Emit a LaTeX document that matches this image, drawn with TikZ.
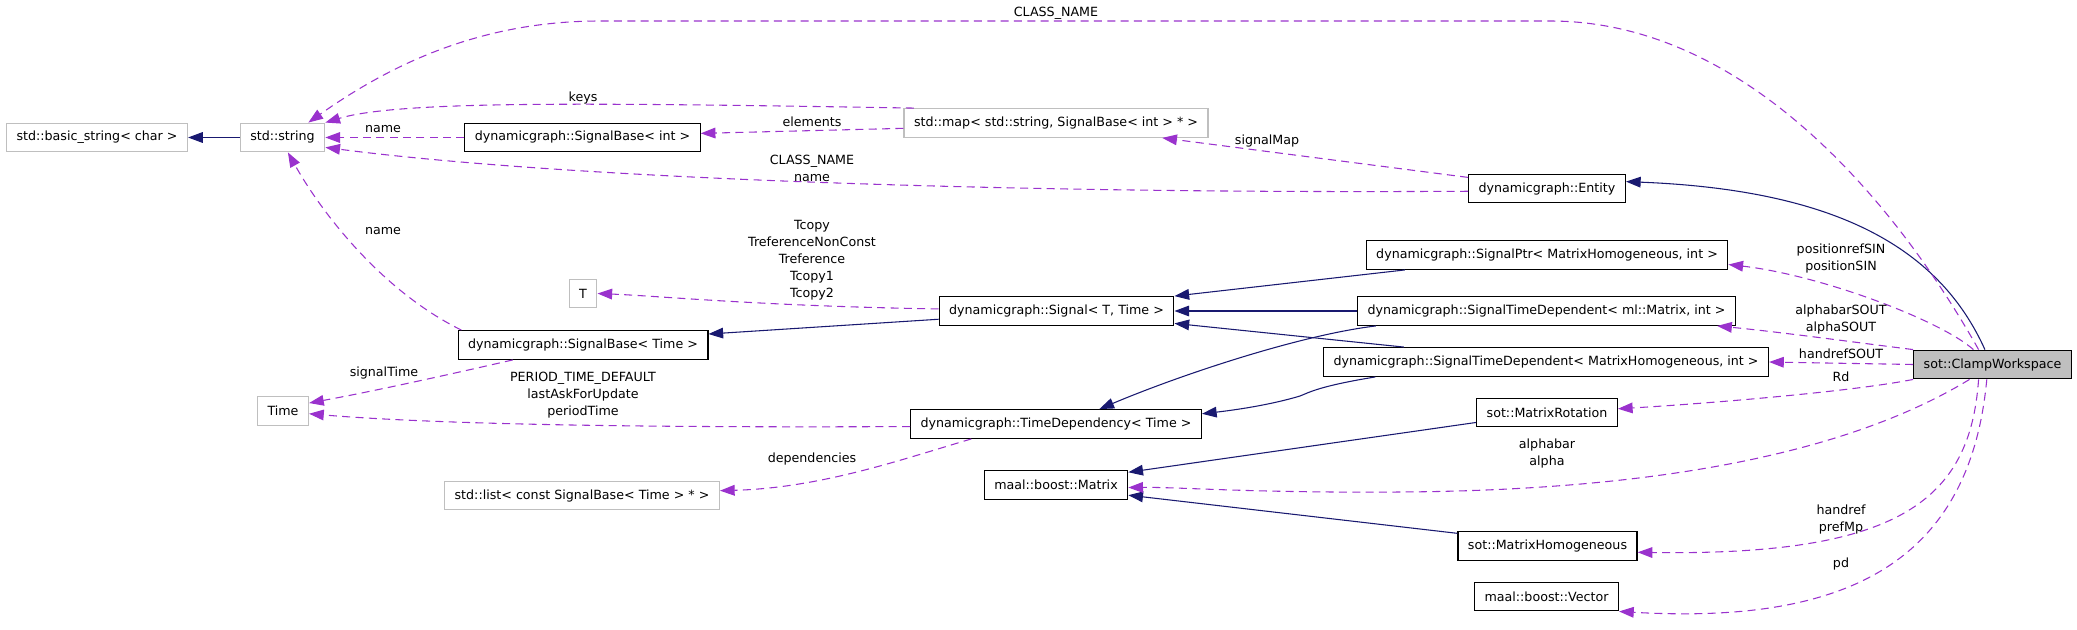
\documentclass[tikz,border=0pt]{standalone}
\usepackage{fontspec}
\newfontfamily\dgfont{DejaVu Sans}
\usetikzlibrary{arrows.meta}
\definecolor{inhblue}{HTML}{191970}
\definecolor{usepurple}{HTML}{9A32CD}
\definecolor{extgray}{HTML}{BFBFBF}
\tikzset{
  cls/.style={draw=black, line width=0.9pt, fill=white, minimum height=21.5pt, inner xsep=7.5pt, inner ysep=0pt, font=\dgfont\fontsize{9.5}{12.75}\selectfont},
  extcls/.style={cls, draw=extgray},
  thiscls/.style={cls, fill=extgray},
  lbl/.style={align=center, inner sep=0pt, font=\dgfont\fontsize{9.5}{12.75}\selectfont},
  inherit/.style={draw=inhblue, line width=0.8pt, -{Triangle[length=11pt,width=8pt]}},
  uses/.style={draw=usepurple, line width=0.8pt, dash pattern=on 6pt off 4pt, -{Triangle[length=11pt,width=8pt]}}
}
\begin{document}
\begin{tikzpicture}[x=0.75pt,y=0.75pt,yscale=-1,xscale=1]
\useasboundingbox (0,0) rectangle (2077,629);

%classes
\node[extcls] (basic) at (97,137.5) {std::basic\_string< char >};
\node[extcls] (str) at (282.5,137.5) {std::string};
\node[cls] (sbint) at (582.5,137.5) {dynamicgraph::SignalBase< int >};
\node[extcls] (map) at (1056,123) {std::map< std::string, SignalBase< int > * >};
\node[extcls] (T) at (583,293.5) {T};
\node[cls] (sbtime) at (583,345) {dynamicgraph::SignalBase< Time >};
\node[extcls] (time) at (283,411) {Time};
\node[extcls] (list) at (582,495.5) {std::list< const SignalBase< Time > * >};
\node[cls] (signal) at (1056.5,311) {dynamicgraph::Signal< T, Time >};
\node[cls] (timedep) at (1056,424) {dynamicgraph::TimeDependency< Time >};
\node[cls] (matrix) at (1056,485) {maal::boost::Matrix};
\node[cls] (entity) at (1547,188.5) {dynamicgraph::Entity};
\node[cls] (sigptr) at (1547,255) {dynamicgraph::SignalPtr< MatrixHomogeneous, int >};
\node[cls] (stdml) at (1546.5,311) {dynamicgraph::SignalTimeDependent< ml::Matrix, int >};
\node[cls] (stdmh) at (1546,362) {dynamicgraph::SignalTimeDependent< MatrixHomogeneous, int >};
\node[cls] (matrot) at (1547,412.5) {sot::MatrixRotation};
\node[cls] (mathom) at (1547.5,546) {sot::MatrixHomogeneous};
\node[cls] (vector) at (1546.5,596.5) {maal::boost::Vector};
\node[thiscls] (clamp) at (1992.5,364.5) {sot::ClampWorkspace};

%inheritance
\draw[inherit] (str.west) -- (basic.east);
\draw[inherit] (signal.184) -- (sbtime.5);
\draw[inherit] (sigptr.186) -- (signal.north east);
\draw[inherit] (stdml.west) -- (signal.east);
\draw[inherit] (stdml.185) .. controls (1300,335) and (1180,375) .. (timedep.19);
\draw[inherit] (stdmh.174) -- (signal.-6);
\draw[inherit] (stdmh.185) .. controls (1320,386) and (1310,392) .. (1300,396) .. controls (1270,405) and (1235,410) .. (timedep.4);
\draw[inherit] (clamp.117) .. controls (1940,250) and (1840,190) .. (entity.5);
\draw[inherit] (matrot.188) -- (matrix.10);
\draw[inherit] (mathom.172) -- (matrix.-8);

%usage
\draw[uses] (clamp.133) .. controls (1900,210) and (1750,21) .. (1550,21) -- (600,21) .. controls (480,21) and (390,65) .. (str.30);
\node[lbl] (lclass) at (1056,13) {CLASS\_NAME};
\draw[uses] (map.174) .. controls (600,103) and (400,100) .. (str.north east);
\node[lbl] (lkeys) at (583,98) {keys};
\draw[uses] (sbint.west) -- (str.east);
\node[lbl] (lname) at (383,129) {name};
\draw[uses] (map.182) -- (sbint.2);
\node[lbl] (lelem) at (812,122) {elements};
\draw[uses] (entity.182) .. controls (1000,194) and (560,178) .. (str.-13);
\node[lbl] (lentname) at (812,168) {CLASS\_NAME\\name};
\draw[uses] (entity.172) -- (map.-8);
\node[lbl] (lsigmap) at (1267,141) {signalMap};
\draw[uses] (signal.179) .. controls (760,306) and (660,296) .. (T.east);
\node[lbl] (ltcopy) at (812,260) {Tcopy\\TreferenceNonConst\\Treference\\Tcopy1\\Tcopy2};
\draw[uses] (sbtime.173) .. controls (380,290) and (320,210) .. (str.-70);
\node[lbl] (lsbname) at (383,231) {name};
\draw[uses] (sbtime.-168) .. controls (460,372) and (380,390) .. (time.17);
\node[lbl] (lsigtime) at (384,373) {signalTime};
\draw[uses] (timedep.181) .. controls (600,428) and (420,423) .. (time.-6);
\node[lbl] (lperiod) at (583,395) {PERIOD\_TIME\_DEFAULT\\lastAskForUpdate\\periodTime};
\draw[uses] (timedep.190) .. controls (900,460) and (820,488) .. (list.2);
\node[lbl] (ldeps) at (812,459) {dependencies};
\draw[uses] (clamp.142) .. controls (1940,320) and (1820,275) .. (sigptr.-3);
\node[lbl] (lpos) at (1841,258) {positionrefSIN\\positionSIN};
\draw[uses] (clamp.north west) .. controls (1860,343) and (1780,332) .. (stdml.-5);
\node[lbl] (lalphaout) at (1841,319.5) {alphabarSOUT\\alphaSOUT};
\draw[uses] (clamp.west) -- (stdmh.east);
\node[lbl] (lhandout) at (1841,354) {handrefSOUT};
\draw[uses] (clamp.south west) .. controls (1850,392) and (1700,404) .. (matrot.3);
\node[lbl] (lrd) at (1841,377) {Rd};
\draw[uses] (clamp.-147) .. controls (1870,440) and (1700,490) .. (1400,492) .. controls (1250,493) and (1180,487) .. (matrix.-2);
\node[lbl] (lalpha) at (1547,453) {alphabar\\alpha};
\draw[uses] (clamp.-133) .. controls (1970,500) and (1900,556) .. (mathom.-4);
\node[lbl] (lhandref) at (1841,519.5) {handref\\prefMp};
\draw[uses] (clamp.-111) .. controls (1970,560) and (1850,625) .. (vector.south east);
\node[lbl] (lpd) at (1841,564) {pd};

\end{tikzpicture}
\end{document}
